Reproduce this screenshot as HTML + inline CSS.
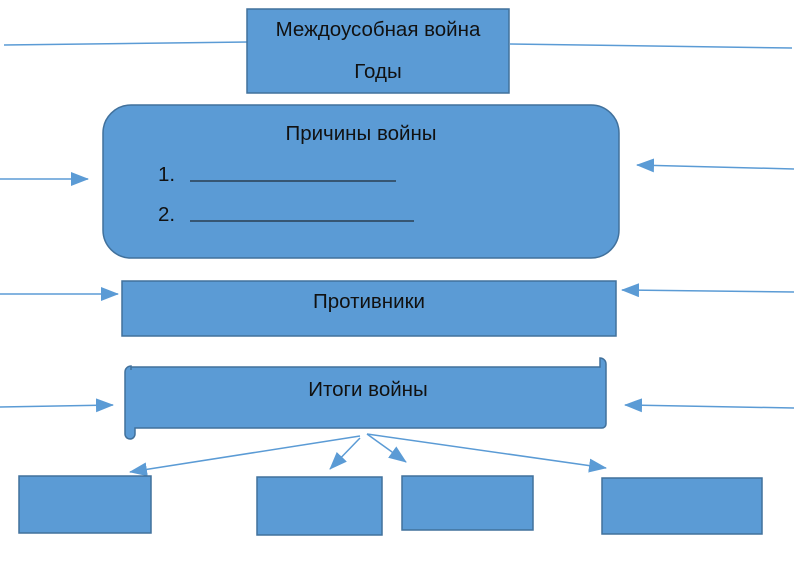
<!DOCTYPE html>
<html><head><meta charset="utf-8"><style>
html,body{margin:0;padding:0;background:#fff;width:794px;height:562px;overflow:hidden}
svg{display:block}
text{font-family:"Liberation Sans",sans-serif;font-size:20.5px;fill:#111}
</style></head><body>
<svg width="794" height="562" viewBox="0 0 794 562">
<defs>
<marker id="b" markerWidth="18" markerHeight="14" refX="17" refY="7" orient="auto" markerUnits="userSpaceOnUse" viewBox="0 0 18 14">
<path d="M0,0 L18,7 L0,14 z" fill="#5b9bd5"/></marker>
</defs>
<g stroke="#5b9bd5" stroke-width="1.5" fill="none">
<line x1="4" y1="45" x2="248" y2="42"/>
<line x1="510" y1="44" x2="792" y2="48"/>
<line x1="0" y1="179" x2="88" y2="179" marker-end="url(#b)"/>
<line x1="794" y1="169" x2="637" y2="165" marker-end="url(#b)"/>
<line x1="0" y1="294" x2="118" y2="294" marker-end="url(#b)"/>
<line x1="794" y1="292" x2="622" y2="290" marker-end="url(#b)"/>
<line x1="0" y1="407" x2="113" y2="405" marker-end="url(#b)"/>
<line x1="794" y1="408" x2="625" y2="405" marker-end="url(#b)"/>
<line x1="360" y1="436" x2="130" y2="472" marker-end="url(#b)"/>
<line x1="360" y1="438" x2="330" y2="469" marker-end="url(#b)"/>
<line x1="367" y1="434" x2="406" y2="462" marker-end="url(#b)"/>
<line x1="367" y1="434" x2="606" y2="468" marker-end="url(#b)"/>
</g>
<g fill="#5b9bd5" stroke="#41719c" stroke-width="1.5">
<rect x="247" y="9" width="262" height="84"/>
<rect x="103" y="105" width="516" height="153" rx="28"/>
<rect x="122" y="281" width="494" height="55"/>
<path d="M131,370 L131,367 L600,367 L600,358 a6,6 0 0 1 6,6 L606,424 a4,4 0 0 1 -4,4 L135,428 L135,434 a5,5 0 0 1 -10,0 L125,372 a6,6 0 0 1 6,-6 z"/>
<rect x="19" y="476" width="132" height="57"/>
<rect x="257" y="477" width="125" height="58"/>
<rect x="402" y="476" width="131" height="54"/>
<rect x="602" y="478" width="160" height="56"/>
</g>
<text x="378" y="36" text-anchor="middle">Междоусобная война</text>
<text x="378" y="78" text-anchor="middle">Годы</text>
<text x="361" y="140" text-anchor="middle">Причины войны</text>
<text x="158" y="181">1.</text>
<text x="158" y="221">2.</text>
<line x1="190" y1="181" x2="396" y2="181" stroke="#111" stroke-width="1"/>
<line x1="190" y1="221" x2="414" y2="221" stroke="#111" stroke-width="1"/>
<text x="369" y="308" text-anchor="middle">Противники</text>
<text x="368" y="396" text-anchor="middle">Итоги войны</text>
</svg>
</body></html>
